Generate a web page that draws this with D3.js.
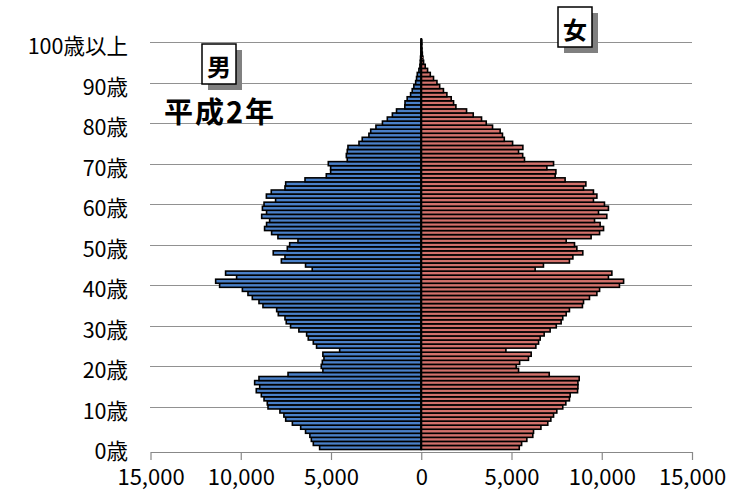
<!DOCTYPE html>
<html>
<head>
<meta charset="utf-8">
<script src="https://cdn.jsdelivr.net/npm/d3@7"></script>
<style>
  body { margin: 0; background: #fff; }
  svg { display: block; }
  text { font-family: "Noto Sans CJK JP", "Noto Sans", sans-serif; fill: #000; }
</style>
</head>
<body>
<svg id="chart" width="729" height="492"></svg>
<script>
// Population by single year of age (age 0 .. 100+), 平成2年
const ages = d3.range(0, 101);

const male = [
  5630, 5980, 6090, 6170, 6410, 6680, 7140, 7510, 7610, 7830,
  8490, 8530, 8710, 8860, 9140, 8950, 9230, 8990, 7380, 5450,
  5540, 5480, 5390, 5450, 4520, 5800, 5980, 6260, 6350, 6780,
  7240, 7480, 7550, 7920, 8010, 8770, 8990, 9360, 9600, 9910,
  11170, 11390, 10230, 10840, 6040, 6410, 7750, 7550, 8200, 7420,
  7290, 6830, 7940, 8290, 8680, 8570, 8400, 8840, 8570, 8800,
  8710, 8070, 8580, 8310, 7550, 7510, 6440, 5260, 5020, 5020,
  5150, 4100, 4150, 4100, 4060, 3450, 3270, 2900, 2800, 2510,
  2150, 1880, 1600, 1370, 910, 900, 780, 590, 500, 410,
  310, 260, 220, 130, 75, 55, 40, 25, 15, 10,
  10
];

const female = [
  5430, 5560, 5850, 6180, 6220, 6630, 7010, 7180, 7330, 7510,
  7840, 8010, 8210, 8250, 8660, 8680, 8680, 8750, 7090, 5390,
  5260, 5450, 5940, 6090, 4690, 6350, 6500, 6590, 6810, 7140,
  7480, 7750, 7840, 8030, 8210, 8930, 8990, 9320, 9730, 9880,
  10980, 11210, 10370, 10560, 6310, 6770, 8210, 8400, 8950, 8620,
  8490, 8030, 9410, 9880, 10100, 9910, 9600, 10280, 9820, 10370,
  10150, 9540, 9730, 9540, 8990, 9120, 7970, 7420, 7460, 6960,
  7330, 5720, 5620, 5390, 5630, 5060, 4600, 4500, 4370, 3950,
  3600, 3340, 2880, 2510, 1920, 1790, 1660, 1420, 1230, 1020,
  870, 680, 500, 350, 220, 130, 90, 60, 40, 25,
  30
];

const labelAges = [0, 10, 20, 30, 40, 50, 60, 70, 80, 90, 100];
const ageLabels = ["0歳", "10歳", "20歳", "30歳", "40歳", "50歳", "60歳", "70歳", "80歳", "90歳", "100歳以上"];
const gridAges = [10, 20, 30, 40, 50, 60, 70, 80, 90, 100];
const xTickValues = [-15000, -10000, -5000, 0, 5000, 10000, 15000];

const maleLabel = "男";
const femaleLabel = "女";
const yearLabel = "平成2年";

const svg = d3.select("#chart");

const x = d3.scaleLinear().domain([-15000, 15000]).range([150.5, 692]);
const y = d3.scaleBand().domain(ages).range([449.5, 40]).paddingInner(0).paddingOuter(0);
const bw = y.bandwidth();
const yc = a => y(a) + bw / 2;

// dotted horizontal guide lines every 10 years
svg.append("g")
  .selectAll("line")
  .data(gridAges)
  .join("line")
  .attr("x1", x(-15000))
  .attr("x2", x(15000))
  .attr("y1", d => Math.round(yc(d)) + 0.5)
  .attr("y2", d => Math.round(yc(d)) + 0.5)
  .attr("stroke", "#222")
  .attr("stroke-width", 1)
  .attr("stroke-dasharray", "1,1");

// bars
const bars = svg.append("g").attr("stroke", "#000").attr("stroke-width", 1.6);

bars.selectAll("rect.m")
  .data(ages)
  .join("rect")
  .attr("class", "m")
  .attr("x", a => x(-male[a]))
  .attr("width", a => x(0) - x(-male[a]))
  .attr("y", a => y(a))
  .attr("height", bw)
  .attr("fill", "#4a80c8");

bars.selectAll("rect.f")
  .data(ages)
  .join("rect")
  .attr("class", "f")
  .attr("x", x(0))
  .attr("width", a => x(female[a]) - x(0))
  .attr("y", a => y(a))
  .attr("height", bw)
  .attr("fill", "#d2716b");

// x axis
const xAxis = d3.axisBottom(x)
  .tickValues(xTickValues)
  .tickFormat(d => d3.format(",")(Math.abs(d)))
  .tickSize(8)
  .tickSizeOuter(0)
  .tickPadding(9);

const gx = svg.append("g")
  .attr("transform", "translate(0,452)")
  .call(xAxis);
gx.select(".domain").attr("stroke", "#888").attr("stroke-width", 1.2);
gx.selectAll(".tick line").attr("stroke", "#888").attr("stroke-width", 1.2);
gx.selectAll(".tick text")
  .attr("font-size", 22)
  .attr("fill", "#000")
  .style("font-family", "\"Noto Sans CJK JP\", sans-serif");

// centre axis line
svg.append("line")
  .attr("x1", x(0)).attr("x2", x(0))
  .attr("y1", 38).attr("y2", 450)
  .attr("stroke", "#000")
  .attr("stroke-width", 2);

// age labels
svg.append("g")
  .selectAll("text")
  .data(labelAges)
  .join("text")
  .attr("x", 128)
  .attr("y", d => yc(d) + 2.5)
  .attr("text-anchor", "end")
  .attr("dominant-baseline", "central")
  .attr("font-size", 21.5)
  .text((d, i) => ageLabels[i]);

// sex labels in framed boxes with shadow
function labelBox(bx, by, txt) {
  const g = svg.append("g");
  g.append("rect").attr("x", bx + 6).attr("y", by + 6).attr("width", 34).attr("height", 40).attr("fill", "#808080");
  g.append("rect").attr("x", bx).attr("y", by).attr("width", 34).attr("height", 40)
    .attr("fill", "#fff").attr("stroke", "#000").attr("stroke-width", 1.5);
  g.append("text").attr("x", bx + 17).attr("y", by + 21)
    .attr("text-anchor", "middle").attr("dominant-baseline", "central")
    .attr("font-size", 24).attr("font-weight", "bold").text(txt);
}
labelBox(202, 44, maleLabel);
labelBox(558, 7, femaleLabel);

// year caption
svg.append("text")
  .attr("x", 220)
  .attr("y", 110)
  .attr("text-anchor", "middle")
  .attr("dominant-baseline", "central")
  .attr("font-size", 29)
  .attr("font-weight", "bold")
  .attr("letter-spacing", 2)
  .text(yearLabel);
</script>
</body>
</html>
